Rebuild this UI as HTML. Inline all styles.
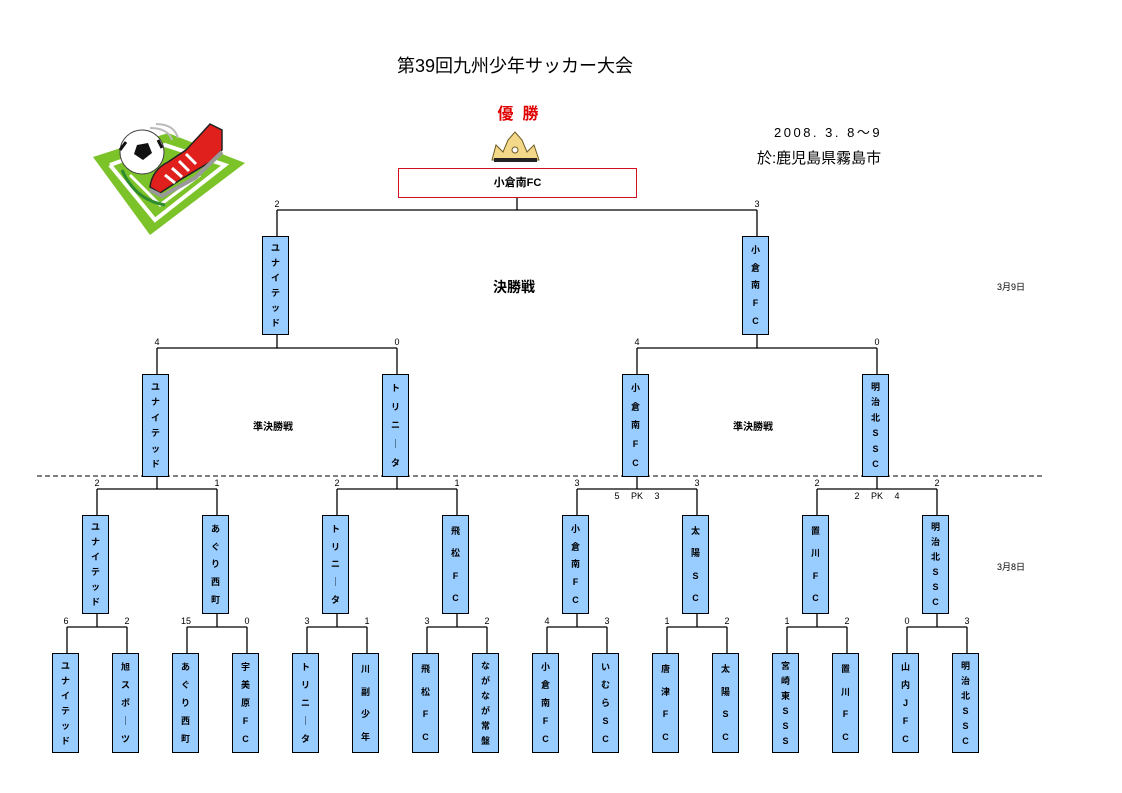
<!DOCTYPE html>
<html><head><meta charset="utf-8">
<style>
body{margin:0;background:#fff;}
#p{position:relative;width:1122px;height:793px;overflow:hidden;font-family:"Liberation Sans","Noto Sans CJK JP",sans-serif;}
.b{position:absolute;width:27px;background:#99ccff;border:1.5px solid #000;display:flex;flex-direction:column;justify-content:space-around;align-items:center;font-size:9px;font-weight:bold;line-height:10px;padding:4px 0;box-sizing:border-box;}
.t{position:absolute;white-space:nowrap;}
.s{position:absolute;font-size:9px;transform:translateX(-50%);}
svg{position:absolute;left:0;top:0;}
</style></head><body><div id="p">
<svg width="1122" height="793">
<g stroke="#000" stroke-width="1.3" fill="none">
<path d="M67 627H127M67 627V653M127 627V653M97 613V627"/>
<path d="M187 627H247M187 627V653M247 627V653M217 613V627"/>
<path d="M307 627H367M307 627V653M367 627V653M337 613V627"/>
<path d="M427 627H487M427 627V653M487 627V653M457 613V627"/>
<path d="M547 627H607M547 627V653M607 627V653M577 613V627"/>
<path d="M667 627H727M667 627V653M727 627V653M697 613V627"/>
<path d="M787 627H847M787 627V653M847 627V653M817 613V627"/>
<path d="M907 627H967M907 627V653M967 627V653M937 613V627"/>
<path d="M97 489H217M97 489V515M217 489V515M157 476V489"/>
<path d="M337 489H457M337 489V515M457 489V515M397 476V489"/>
<path d="M577 489H697M577 489V515M697 489V515M637 476V489"/>
<path d="M817 489H937M817 489V515M937 489V515M877 476V489"/>
<path d="M157 348H397M157 348V374M397 348V374M277 335V348"/>
<path d="M637 348H877M637 348V374M877 348V374M757 335V348"/>
<path d="M277 210H757M277 210V236M757 210V236M517 197V210"/>
</g>
<line x1="37" y1="476" x2="1043" y2="476" stroke="#000" stroke-width="1" stroke-dasharray="5,3"/>
<!-- logo -->
<polygon points="93,157 168,133 245,163 150,235" fill="#7cc229"/>
<polyline points="110,165 165,145 225,165 155,220 110,165" fill="none" stroke="#fff" stroke-width="4"/>
<polyline points="130,175 160,205 200,175" fill="none" stroke="#fff" stroke-width="3"/>
<path d="M122 170 Q135 200 165 205" stroke="#2e8b2e" stroke-width="3" fill="none"/>
<path d="M150 128 Q168 128 172 140 M156 124 Q174 124 178 138" stroke="#bbb" stroke-width="2" fill="none"/>
<circle cx="142" cy="152" r="22" fill="#fff" stroke="#444" stroke-width="1"/>
<polygon points="137,145 148,143 152,153 143,160 134,154" fill="#111"/>
<path d="M120 150 l6 -8 M158 140 l4 8" stroke="#111" stroke-width="3"/>
<path d="M150 187 Q152 170 168 162 L186 150 L200 135 L210 124 L222 130 L222 150 L210 162 L180 180 L160 193 Z" fill="#e0201c" stroke="#222" stroke-width="1.5"/>
<path d="M165 175 L175 183 M172 168 L182 177 M179 161 L189 171 M186 154 L196 164" stroke="#fff" stroke-width="3"/>
<path d="M150 190 L162 196 L195 178 L222 152" stroke="#999" stroke-width="4" fill="none"/>
<!-- crown -->
<g>
<path d="M492 160 L496 145 L503 152 L508 140 L515 132 L522 140 L527 152 L534 145 L539 160 Z" fill="#f3d88a" stroke="#6b5a20" stroke-width="1"/>
<rect x="494" y="158" width="43" height="4" fill="#222"/>
<circle cx="515" cy="150" r="3" fill="#fff" stroke="#6b5a20"/>
</g>
</svg>

<div class="t" style="left:0;width:1030px;text-align:center;top:52px;font-size:18px;">第39回九州少年サッカー大会</div>
<div class="t" style="left:478px;width:80px;text-align:center;top:100px;font-size:16px;font-weight:bold;color:#e00000;">優&nbsp;&nbsp;勝</div>
<div class="t" style="left:398px;top:168px;width:237px;height:28px;border:1px solid #d01020;text-align:center;line-height:28px;font-size:11px;font-weight:bold;">小倉南FC</div>
<div class="t" style="left:774px;top:122px;font-size:13px;letter-spacing:2.5px;">2008.&nbsp;3.&nbsp;8〜9</div>
<div class="t" style="left:757px;top:147px;font-size:15px;">於:鹿児島県霧島市</div>
<div class="t" style="left:493px;top:277px;font-size:14px;font-weight:bold;">決勝戦</div>
<div class="t" style="left:253px;top:418px;font-size:10px;font-weight:bold;">準決勝戦</div>
<div class="t" style="left:733px;top:418px;font-size:10px;font-weight:bold;">準決勝戦</div>
<div class="t" style="left:997px;top:280px;font-size:9px;">3月9日</div>
<div class="t" style="left:997px;top:560px;font-size:9px;">3月8日</div>

<div class="s" style="left:277px;top:199px">2</div><div class="s" style="left:757px;top:199px">3</div>
<div class="s" style="left:157px;top:337px">4</div><div class="s" style="left:397px;top:337px">0</div>
<div class="s" style="left:637px;top:337px">4</div><div class="s" style="left:877px;top:337px">0</div>
<div class="s" style="left:97px;top:478px">2</div><div class="s" style="left:217px;top:478px">1</div>
<div class="s" style="left:337px;top:478px">2</div><div class="s" style="left:457px;top:478px">1</div>
<div class="s" style="left:577px;top:478px">3</div><div class="s" style="left:697px;top:478px">3</div>
<div class="s" style="left:817px;top:478px">2</div><div class="s" style="left:937px;top:478px">2</div>
<div class="s" style="left:617px;top:491px">5</div><div class="s" style="left:637px;top:491px">PK</div><div class="s" style="left:657px;top:491px">3</div>
<div class="s" style="left:857px;top:491px">2</div><div class="s" style="left:877px;top:491px">PK</div><div class="s" style="left:897px;top:491px">4</div>
<div class="s" style="left:66px;top:616px">6</div><div class="s" style="left:127px;top:616px">2</div>
<div class="s" style="left:186px;top:616px">15</div><div class="s" style="left:247px;top:616px">0</div>
<div class="s" style="left:307px;top:616px">3</div><div class="s" style="left:367px;top:616px">1</div>
<div class="s" style="left:427px;top:616px">3</div><div class="s" style="left:487px;top:616px">2</div>
<div class="s" style="left:547px;top:616px">4</div><div class="s" style="left:607px;top:616px">3</div>
<div class="s" style="left:667px;top:616px">1</div><div class="s" style="left:727px;top:616px">2</div>
<div class="s" style="left:787px;top:616px">1</div><div class="s" style="left:847px;top:616px">2</div>
<div class="s" style="left:907px;top:616px">0</div><div class="s" style="left:967px;top:616px">3</div>

<div class="b" style="left:262px;top:236px;height:99px"><span>ユ</span><span>ナ</span><span>イ</span><span>テ</span><span>ッ</span><span>ド</span></div>
<div class="b" style="left:742px;top:236px;height:99px"><span>小</span><span>倉</span><span>南</span><span>F</span><span>C</span></div>
<div class="b" style="left:142px;top:374px;height:103px"><span>ユ</span><span>ナ</span><span>イ</span><span>テ</span><span>ッ</span><span>ド</span></div>
<div class="b" style="left:382px;top:374px;height:103px"><span>ト</span><span>リ</span><span>ニ</span><span>｜</span><span>タ</span></div>
<div class="b" style="left:622px;top:374px;height:103px"><span>小</span><span>倉</span><span>南</span><span>F</span><span>C</span></div>
<div class="b" style="left:862px;top:374px;height:103px"><span>明</span><span>治</span><span>北</span><span>S</span><span>S</span><span>C</span></div>
<div class="b" style="left:82px;top:515px;height:99px"><span>ユ</span><span>ナ</span><span>イ</span><span>テ</span><span>ッ</span><span>ド</span></div>
<div class="b" style="left:202px;top:515px;height:99px"><span>あ</span><span>ぐ</span><span>り</span><span>西</span><span>町</span></div>
<div class="b" style="left:322px;top:515px;height:99px"><span>ト</span><span>リ</span><span>ニ</span><span>｜</span><span>タ</span></div>
<div class="b" style="left:442px;top:515px;height:99px"><span>飛</span><span>松</span><span>F</span><span>C</span></div>
<div class="b" style="left:562px;top:515px;height:99px"><span>小</span><span>倉</span><span>南</span><span>F</span><span>C</span></div>
<div class="b" style="left:682px;top:515px;height:99px"><span>太</span><span>陽</span><span>S</span><span>C</span></div>
<div class="b" style="left:802px;top:515px;height:99px"><span>置</span><span>川</span><span>F</span><span>C</span></div>
<div class="b" style="left:922px;top:515px;height:99px"><span>明</span><span>治</span><span>北</span><span>S</span><span>S</span><span>C</span></div>
<div class="b" style="left:52px;top:653px;height:100px"><span>ユ</span><span>ナ</span><span>イ</span><span>テ</span><span>ッ</span><span>ド</span></div>
<div class="b" style="left:112px;top:653px;height:100px"><span>旭</span><span>ス</span><span>ポ</span><span>｜</span><span>ツ</span></div>
<div class="b" style="left:172px;top:653px;height:100px"><span>あ</span><span>ぐ</span><span>り</span><span>西</span><span>町</span></div>
<div class="b" style="left:232px;top:653px;height:100px"><span>宇</span><span>美</span><span>原</span><span>F</span><span>C</span></div>
<div class="b" style="left:292px;top:653px;height:100px"><span>ト</span><span>リ</span><span>ニ</span><span>｜</span><span>タ</span></div>
<div class="b" style="left:352px;top:653px;height:100px"><span>川</span><span>副</span><span>少</span><span>年</span></div>
<div class="b" style="left:412px;top:653px;height:100px"><span>飛</span><span>松</span><span>F</span><span>C</span></div>
<div class="b" style="left:472px;top:653px;height:100px"><span>な</span><span>が</span><span>な</span><span>が</span><span>常</span><span>盤</span></div>
<div class="b" style="left:532px;top:653px;height:100px"><span>小</span><span>倉</span><span>南</span><span>F</span><span>C</span></div>
<div class="b" style="left:592px;top:653px;height:100px"><span>い</span><span>む</span><span>ら</span><span>S</span><span>C</span></div>
<div class="b" style="left:652px;top:653px;height:100px"><span>唐</span><span>津</span><span>F</span><span>C</span></div>
<div class="b" style="left:712px;top:653px;height:100px"><span>太</span><span>陽</span><span>S</span><span>C</span></div>
<div class="b" style="left:772px;top:653px;height:100px"><span>宮</span><span>崎</span><span>東</span><span>S</span><span>S</span><span>S</span></div>
<div class="b" style="left:832px;top:653px;height:100px"><span>置</span><span>川</span><span>F</span><span>C</span></div>
<div class="b" style="left:892px;top:653px;height:100px"><span>山</span><span>内</span><span>J</span><span>F</span><span>C</span></div>
<div class="b" style="left:952px;top:653px;height:100px"><span>明</span><span>治</span><span>北</span><span>S</span><span>S</span><span>C</span></div>
</div></body></html>
